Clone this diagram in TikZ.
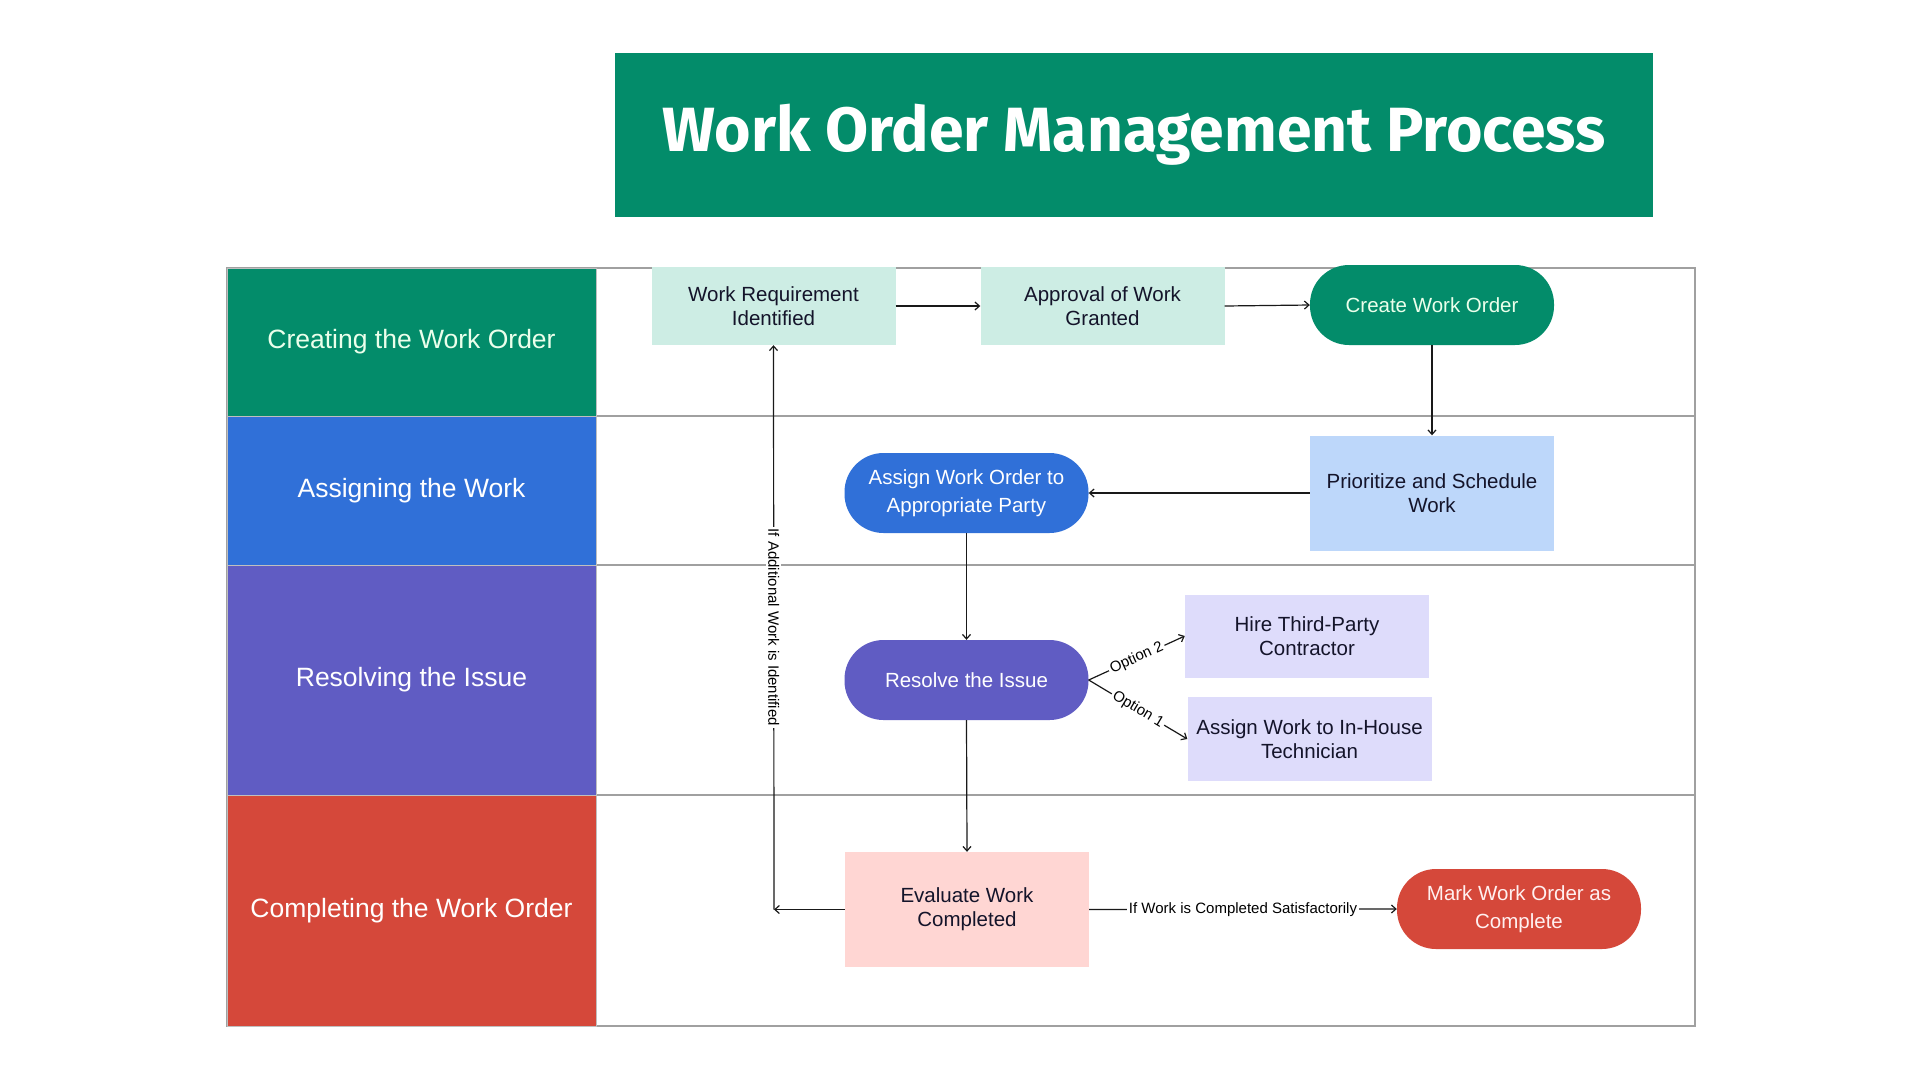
\documentclass[tikz,border=0pt]{standalone}
\usepackage{fontspec}
\setmainfont{Liberation Sans}
\newfontfamily\titlefont{Fira Sans}
\usetikzlibrary{arrows.meta}
\definecolor{gr}{HTML}{038C6A}
\definecolor{bl}{HTML}{3070D8}
\definecolor{pu}{HTML}{605CC3}
\definecolor{rd}{HTML}{D5483A}
\definecolor{lteal}{HTML}{CDEDE4}
\definecolor{lblue}{HTML}{BDD7FA}
\definecolor{lpur}{HTML}{DEDCFB}
\definecolor{lpink}{HTML}{FFD6D3}
\definecolor{txt}{HTML}{14142A}
\definecolor{grid}{HTML}{A0A0A0}
\begin{document}
\begin{tikzpicture}[x=1pt,y=-1pt,
  box/.style={rectangle, align=center, inner sep=0pt, text=txt,
    font=\fontsize{20.5}{24}\selectfont, minimum width=244pt},
  pill/.style={rectangle, rounded corners=39pt, align=center, inner sep=0pt,
    font=\fontsize{20.5}{28}\selectfont, minimum width=244pt, minimum height=80pt},
  lane/.style={rectangle, inner sep=0pt, minimum width=369pt, draw=black!25, line width=0.6pt,
    font=\fontsize{26.5}{30}\selectfont},
  arr/.style={draw=black!90, line width=1.2pt, -{Straight Barb[length=4.5pt,width=8pt]}},
  lbl/.style={fill=white, inner sep=2pt, text=black, font=\fontsize{15}{18}\selectfont}
]
\useasboundingbox (0,0) rectangle (1920,1080);
\fill[white] (0,0) rectangle (1920,1080);

% title
\node[rectangle, fill=gr, minimum width=1038pt, minimum height=164pt, inner sep=0pt,
  text=white, font=\titlefont\bfseries\fontsize{62.5}{72}\selectfont] (title) at (1134,135)
  {Work Order Management Process};

% grid
\draw[grid, line width=1.2pt] (227,268) rectangle (1695,1026);
\draw[grid, line width=1.2pt] (596,416) -- (1695,416);
\draw[grid, line width=1.2pt] (596,565) -- (1695,565);
\draw[grid, line width=1.2pt] (596,795) -- (1695,795);

% lanes
\node[lane, fill=gr, minimum height=148pt, text=green!8] (l1) at (411.5,342) {Creating the Work Order};
\node[lane, fill=bl, minimum height=149pt, text=white] (l2) at (411.5,490.5) {Assigning the Work};
\node[lane, fill=pu, minimum height=230pt, text=white] (l3) at (411.5,680) {Resolving the Issue};
\node[lane, fill=rd, minimum height=231pt, text=white] (l4) at (411.5,910.5) {Completing the Work Order};

% nodes
\node[box, fill=lteal, minimum height=78pt] (wr) at (773.5,306) {Work Requirement\\Identified};
\node[box, fill=lteal, minimum height=78pt] (ap) at (1102.5,306) {Approval of Work\\Granted};
\node[pill, fill=gr, text=green!8] (cw) at (1432,305) {Create Work Order};
\node[box, fill=lblue, minimum height=115pt] (ps) at (1432,493) {Prioritize and Schedule\\Work};
\node[pill, fill=bl, text=white] (as) at (966.5,493) {Assign Work Order to\\Appropriate Party};
\node[pill, fill=pu, text=white] (rs) at (966.5,680) {Resolve the Issue};
\node[box, fill=lpur, minimum height=83pt] (hi) at (1307,636) {Hire Third-Party\\Contractor};
\node[box, fill=lpur, minimum height=84pt] (ih) at (1309.5,739) {Assign Work to In-House\\Technician};
\node[box, fill=lpink, minimum height=115pt] (ev) at (967,909.5) {Evaluate Work\\Completed};
\node[pill, fill=rd, text=red!6] (mk) at (1519,909) {Mark Work Order as\\Complete};

\coordinate (corner) at (774,909.5);

% connectors
\draw[arr] (wr.east) -- (ap.west);
\draw[arr] (ap.east) -- (cw.west);
\draw[arr] (cw.south) -- (ps.north);
\draw[arr] (ps.west) -- (as.east);
\draw[arr] (as.south) -- (rs.north);
\draw[arr] (rs.south) -- (ev.north);
\draw[arr] (rs.east) -- (hi.west) node[lbl, midway, sloped] {Option 2};
\draw[arr] (rs.east) -- (ih.west) node[lbl, midway, sloped] {Option 1};
\draw[arr] (ev.east) -- (mk.west) node[lbl, midway] {If Work is Completed Satisfactorily};
\draw[arr] (ev.west) -- (corner);
\draw[arr] (corner) -- (wr.south) node[lbl, midway, rotate=-90] {If Additional Work is Identified};
\end{tikzpicture}
\end{document}
